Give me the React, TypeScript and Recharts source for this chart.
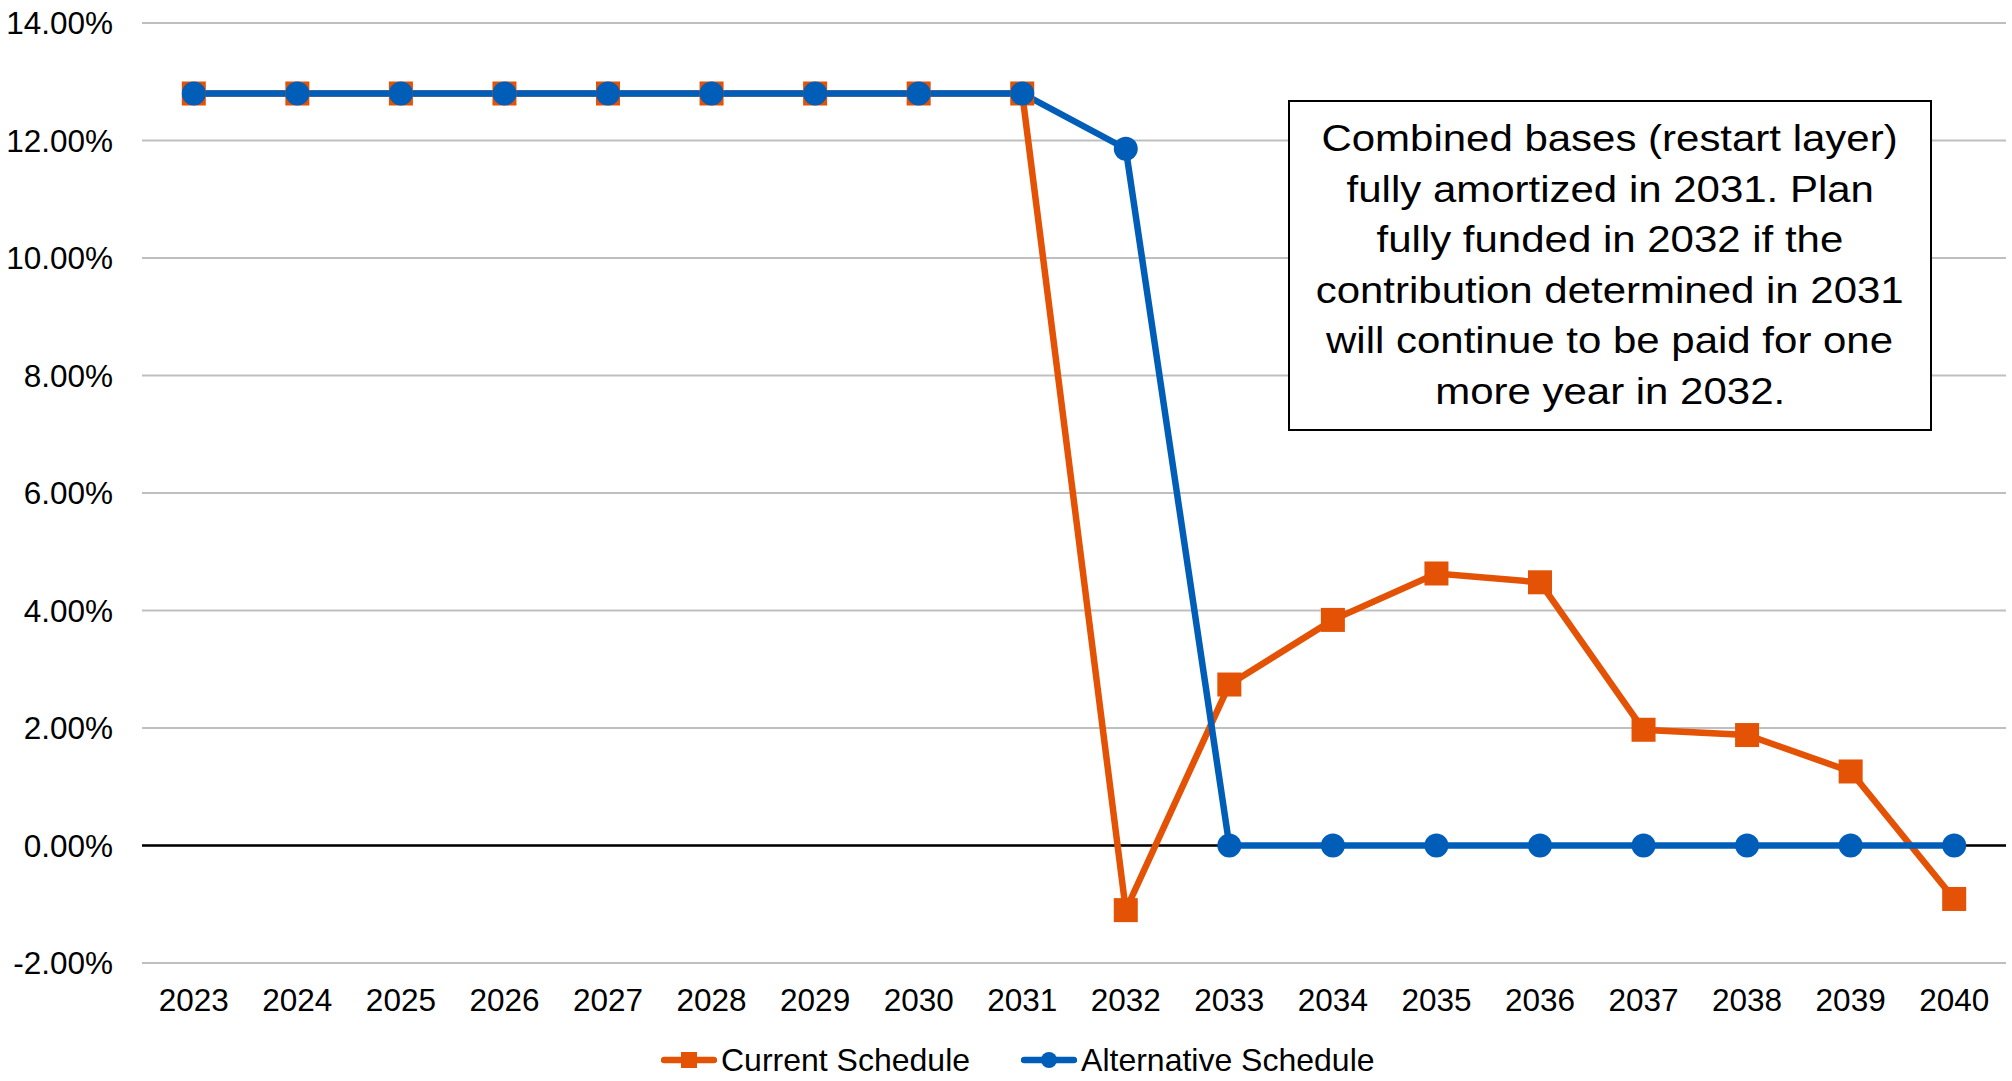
import { LineChart, Line, XAxis, YAxis, CartesianGrid, ReferenceLine, Legend } from "recharts";

const ORANGE = "#E35205";
const BLUE = "#005EB8";
const FONT = '"Liberation Sans", Arial, sans-serif';

const years = [
  "2023", "2024", "2025", "2026", "2027", "2028", "2029", "2030", "2031",
  "2032", "2033", "2034", "2035", "2036", "2037", "2038", "2039", "2040",
];
// contribution rate, in percent
const currentSchedule = [
  12.8, 12.8, 12.8, 12.8, 12.8, 12.8, 12.8, 12.8, 12.8,
  -1.1, 2.74, 3.84, 4.63, 4.48, 1.97, 1.88, 1.26, -0.91,
];
const alternativeSchedule = [
  12.8, 12.8, 12.8, 12.8, 12.8, 12.8, 12.8, 12.8, 12.8,
  11.86, 0, 0, 0, 0, 0, 0, 0, 0,
];
const yTicks = [-2, 0, 2, 4, 6, 8, 10, 12, 14];
const noteLines = [
  "Combined bases (restart layer)",
  "fully amortized in 2031. Plan",
  "fully funded in 2032 if the",
  "contribution determined in 2031",
  "will continue to be paid for one",
  "more year in 2032.",
];

const data = years.map((year, i) => ({
  year,
  current: currentSchedule[i],
  alternative: alternativeSchedule[i],
}));

function SquareDot(props: any) {
  const { cx, cy, index } = props;
  if (cx == null || cy == null) return null;
  return <rect key={`sq-${index}`} x={cx - 12} y={cy - 12} width={24} height={24} fill={ORANGE} />;
}

function LegendContent() {
  const text = { fontSize: 32, color: "#000", fontFamily: FONT, lineHeight: "36px" };
  return (
    <div
      style={{
        height: 60,
        boxSizing: "border-box",
        paddingTop: 18,
        display: "flex",
        alignItems: "center",
        paddingLeft: 661,
      }}
    >
      <svg width={56} height={20} style={{ marginRight: 4 }}>
        <line x1={3} y1={10} x2={53} y2={10} stroke={ORANGE} strokeWidth={6.5} strokeLinecap="round" />
        <rect x={20} y={2} width={16} height={16} fill={ORANGE} />
      </svg>
      <span style={text}>Current Schedule</span>
      <svg width={56} height={20} style={{ marginLeft: 51, marginRight: 4 }}>
        <line x1={3} y1={10} x2={53} y2={10} stroke={BLUE} strokeWidth={6.5} strokeLinecap="round" />
        <circle cx={28} cy={10} r={8} fill={BLUE} />
      </svg>
      <span style={text}>Alternative Schedule</span>
    </div>
  );
}

export default function App() {
  return (
    <div style={{ position: "absolute", left: 0, top: 0, width: 2012, height: 1081, background: "#fff", fontFamily: FONT }}>
      <LineChart width={2012} height={1081} data={data} margin={{ top: 23, right: 6, bottom: 0, left: 0 }}>
        <CartesianGrid vertical={false} stroke="#BFBFBF" strokeWidth={2} />
        <XAxis
          dataKey="year"
          axisLine={false}
          tickLine={false}
          tickSize={6}
          tickMargin={20}
          height={58}
          padding={{ left: 51.8, right: 51.8 }}
          interval={0}
          tick={{ fill: "#000", fontSize: 31.5, fontFamily: FONT }}
        />
        <YAxis
          domain={[-2, 14]}
          ticks={yTicks}
          width={142}
          axisLine={false}
          tickLine={false}
          tickSize={6}
          tickMargin={23}
          tickFormatter={(v: number) => `${v.toFixed(2)}%`}
          tick={{ fill: "#000", fontSize: 31.5, fontFamily: FONT }}
        />
        <ReferenceLine y={0} stroke="#000" strokeWidth={2.5} />
        <Legend verticalAlign="bottom" height={60} content={LegendContent} wrapperStyle={{ left: 0, width: 2012 }} />
        <Line
          dataKey="current"
          name="Current Schedule"
          stroke={ORANGE}
          strokeWidth={6.5}
          dot={SquareDot}
          activeDot={false}
          isAnimationActive={false}
        />
        <Line
          dataKey="alternative"
          name="Alternative Schedule"
          stroke={BLUE}
          strokeWidth={6.5}
          dot={{ r: 12, fill: BLUE, stroke: "none" }}
          activeDot={false}
          isAnimationActive={false}
        />
      </LineChart>

      {/* text box */}
      <div
        style={{
          position: "absolute",
          left: 1288,
          top: 100,
          width: 644,
          height: 331,
          boxSizing: "border-box",
          border: "2px solid #000",
          background: "#fff",
          paddingTop: 12,
          textAlign: "center",
        }}
      >
        {noteLines.map((line) => (
          <div key={line} style={{ height: 50.6, lineHeight: "50.6px", fontSize: 36.5, color: "#000", whiteSpace: "nowrap" }}>
            <span style={{ display: "inline-block", transform: "scaleX(1.15)" }}>{line}</span>
          </div>
        ))}
      </div>
    </div>
  );
}
